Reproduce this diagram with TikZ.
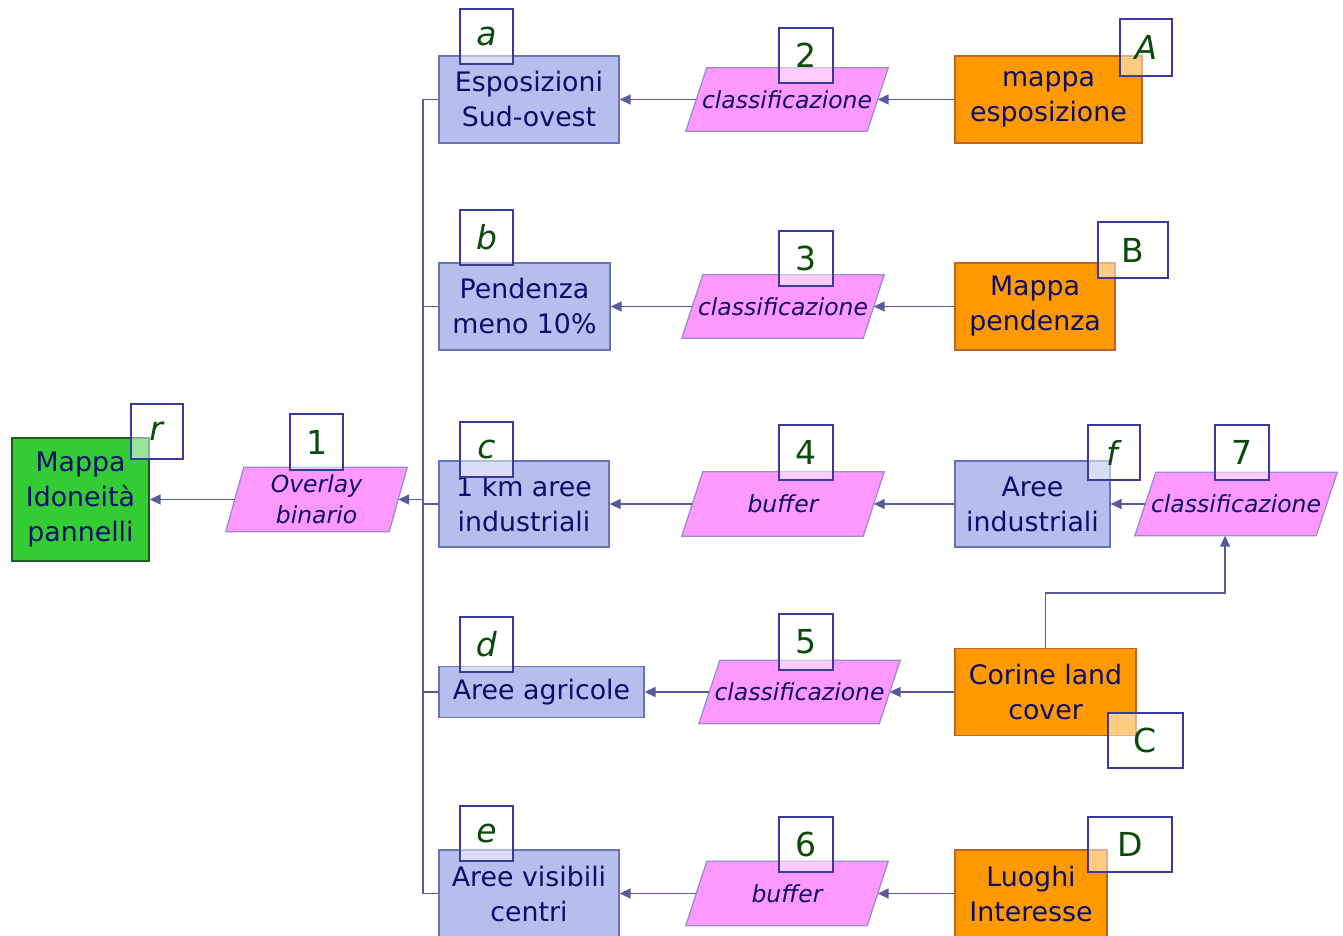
\documentclass[tikz,border=0pt]{standalone}
\usepackage{fontspec}
\setmainfont{DejaVu Sans}
\usetikzlibrary{arrows.meta,backgrounds}
\definecolor{boxblue}{HTML}{B5BEEC}
\definecolor{boxblueline}{HTML}{6A72B4}
\definecolor{parafill}{HTML}{FF99FF}
\definecolor{paraline}{HTML}{9A8CD0}
\definecolor{orfill}{HTML}{FF9900}
\definecolor{orline}{HTML}{C0602A}
\definecolor{grfill}{HTML}{33CC33}
\definecolor{grline}{HTML}{1F5A1F}
\definecolor{navytext}{HTML}{0D0D6B}
\definecolor{labline}{HTML}{3A3A9A}
\definecolor{labgreen}{HTML}{0A4A0A}
\definecolor{conn}{HTML}{575B9B}
\newcommand\drawpara[2]{\fill[parafill,draw=paraline,line width=1.3pt] ([xshift=#2/2]#1.north west) -- ([xshift=#2/2]#1.north east) -- ([xshift=-#2/2]#1.south east) -- ([xshift=-#2/2]#1.south west) -- cycle;}
\begin{document}
\begin{tikzpicture}[x=1pt,y=-1pt,
  basebox/.style={inner sep=0pt, align=center, text=navytext, line width=1.3pt, font=\fontsize{26.8}{35}\selectfont},
  bluebox/.style={basebox, draw=boxblueline, fill=boxblue},
  orbox/.style={basebox, draw=orline, fill=orfill},
  grbox/.style={basebox, draw=grline, fill=grfill},
  parabox/.style={inner sep=0pt, align=center, text=navytext, font=\fontsize{23.5}{31}\selectfont\itshape, minimum height=63},
  lab/.style={draw=labline, line width=1.3pt, fill=white, fill opacity=0.5, text opacity=1, text=labgreen, inner sep=0pt, font=\fontsize{33}{33}\selectfont, minimum width=53, minimum height=55},
  line/.style={draw=conn, line width=1.5pt},
  arr/.style={line, -{Triangle[length=11pt,width=10pt]}}
]
\useasboundingbox (0,0) rectangle (1343,936);

% main nodes
\node[grbox, minimum width=137, minimum height=123] (r) at (80.5,499.5) {Mappa\\Idoneità\\pannelli};
\node[parabox, minimum width=163, minimum height=64] (p1) at (316.5,499.5) {Overlay\\binario};

\node[bluebox, minimum width=180, minimum height=87] (a) at (529,99.5) {Esposizioni\\Sud-ovest};
\node[parabox, minimum width=181] (p2) at (787,99.5) {classificazione};
\node[orbox, minimum width=187, minimum height=87] (A) at (1048.5,99.5) {mappa\\esposizione};

\node[bluebox, minimum width=171, minimum height=87] (b) at (524.5,306.5) {Pendenza\\meno 10\%};
\node[parabox, minimum width=181] (p3) at (783,306.5) {classificazione};
\node[orbox, minimum width=160, minimum height=87] (B) at (1035,306.5) {Mappa\\pendenza};

\node[bluebox, minimum width=170, minimum height=86] (c) at (524,504) {1 km aree\\industriali};
\node[parabox, minimum width=181, minimum height=64] (p4) at (783,504) {buffer};
\node[bluebox, minimum width=155, minimum height=86] (f) at (1032.5,504) {Aree\\industriali};
\node[parabox, minimum width=181] (p7) at (1236,504) {classificazione};

\node[bluebox, minimum width=205, minimum height=51] (d) at (541.5,692) {Aree agricole};
\node[parabox, minimum width=180] (p5) at (799.5,692) {classificazione};
\node[orbox, minimum width=181, minimum height=87] (C) at (1045.5,692) {Corine land\\cover};

\node[bluebox, minimum width=180, minimum height=87] (e) at (529,893.5) {Aree visibili\\centri};
\node[parabox, minimum width=181, minimum height=64] (p6) at (787,893.5) {buffer};
\node[orbox, minimum width=152, minimum height=87] (D) at (1031,893.5) {Luoghi\\Interesse};

% parallelogram shapes behind their texts
\begin{scope}[on background layer]
\fill[white] (0,0) rectangle (1343,936);
\drawpara{p1}{18}
\drawpara{p2}{21}
\drawpara{p3}{21}
\drawpara{p4}{21}
\drawpara{p5}{21}
\drawpara{p6}{21}
\drawpara{p7}{21}
\end{scope}

% connectors
\coordinate (top) at (423,99.5);
\coordinate (bot) at (423,893.5);
\coordinate (kink) at (1225,593);
\draw[line] (top) -- (bot);
\draw[line] (a.west) -- (a.west -| top);
\draw[line] (b.west) -- (b.west -| top);
\draw[line] (c.west) -- (c.west -| top);
\draw[line] (d.west) -- (d.west -| top);
\draw[line] (e.west) -- (e.west -| top);
\draw[arr] (p1.east -| top) -- (p1.east);
\draw[arr] (p1.west) -- (r.east);

\draw[arr] (A.west) -- (p2.east);
\draw[arr] (p2.west) -- (a.east);
\draw[arr] (B.west) -- (p3.east);
\draw[arr] (p3.west) -- (b.east);
\draw[arr] (f.west) -- (p4.east);
\draw[arr] (p4.west) -- (c.east);
\draw[arr] (p7.west) -- (f.east);
\draw[arr] (C.north) |- (kink) -- (kink |- p7.south);
\draw[arr] (C.west) -- (p5.east);
\draw[arr] (p5.west) -- (d.east);
\draw[arr] (D.west) -- (p6.east);
\draw[arr] (p6.west) -- (e.east);

% labels
\node[lab, minimum width=52] (lr) at (157,431.5) {\textit{r}};
\node[lab, minimum height=56] (l1) at (316.5,442) {1};
\node[lab] (la) at (486.5,36.5) {\textit{a}};
\node[lab, minimum width=54] (l2) at (806,55.5) {2};
\node[lab, minimum width=52, minimum height=57] (lA) at (1146,47.5) {\textit{A}};
\node[lab] (lb) at (486.5,237.5) {\textit{b}};
\node[lab, minimum width=54] (l3) at (806,258.5) {3};
\node[lab, minimum width=70, minimum height=56] (lB) at (1133,250) {B};
\node[lab] (lc) at (486.5,449.5) {\textit{c}};
\node[lab, minimum width=54] (l4) at (806,452.5) {4};
\node[lab, minimum width=52] (lf) at (1114,452.5) {\textit{f}};
\node[lab, minimum width=54] (l7) at (1242,452.5) {7};
\node[lab] (ld) at (486.5,644.5) {\textit{d}};
\node[lab, minimum width=54, minimum height=56] (l5) at (806,642) {5};
\node[lab, minimum width=75] (lC) at (1145.5,740.5) {C};
\node[lab] (le) at (486.5,833.5) {\textit{e}};
\node[lab, minimum width=54] (l6) at (806,844.5) {6};
\node[lab, minimum width=84] (lD) at (1130,844.5) {D};
\end{tikzpicture}
\end{document}
